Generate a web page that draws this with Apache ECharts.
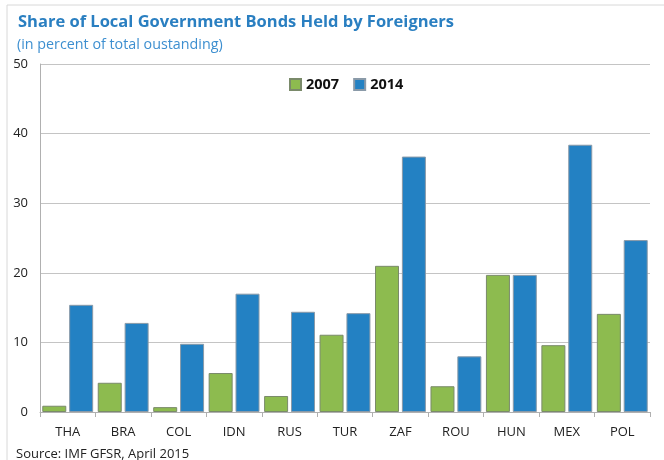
<!DOCTYPE html>
<html><head><meta charset="utf-8">
<script src="https://cdn.jsdelivr.net/npm/echarts@6/dist/echarts.min.js"></script>
<style>html,body{margin:0;padding:0;background:#fff}#c{width:664px;height:460px}</style>
</head><body><div id="c"></div>
<script>
const categories = ['THA','BRA','COL','IDN','RUS','TUR','ZAF','ROU','HUN','MEX','POL'];
const s2007 = [0.9,4.2,0.7,5.6,2.3,11.1,21.0,3.7,19.7,9.6,14.1];
const s2014 = [15.4,12.8,9.8,17.0,14.4,14.2,36.7,8.0,19.7,38.4,24.7];
const yTicks = [0,10,20,30,40,50];
const FONT = '"Open Sans","Noto Sans",sans-serif';
const chart = echarts.init(document.getElementById('c'), null, {renderer:'canvas'});
chart.setOption({
  animation:false,
  backgroundColor:'#fff',
  graphic:[{type:'rect',shape:{x:7,y:5,width:680,height:470},style:{fill:'none',stroke:'#d8d8d8',lineWidth:1},silent:true}],
  title:[
    {text:'Share of Local Government Bonds Held by Foreigners',left:13,top:9,textStyle:{fontFamily:FONT,fontSize:16.5,fontWeight:'bold',color:'#2a7fc1'}},
    {text:'(in percent of total oustanding)',left:12,top:33,textStyle:{fontFamily:FONT,fontSize:14.3,fontWeight:'normal',color:'#3d8fd0'}},
    {text:'Source: IMF GFSR, April 2015',left:11,top:443,textStyle:{fontFamily:FONT,fontSize:13,fontWeight:'normal',color:'#222'}}
  ],
  legend:{top:72,left:284,itemWidth:11,itemHeight:11,itemGap:14,icon:'rect',
    textStyle:{fontFamily:FONT,fontSize:14.5,fontWeight:'bold',color:'#111'},data:['2007','2014']},
  grid:{left:40,right:14,top:64,bottom:48},
  xAxis:{type:'category',data:categories,
    axisLine:{lineStyle:{color:'#b0b0b0'}},
    axisTick:{show:true,lineStyle:{color:'#b0b0b0'},length:5},
    axisLabel:{fontFamily:FONT,fontSize:13,color:'#222',margin:14}},
  yAxis:{type:'value',min:0,max:50,interval:10,
    axisLine:{show:true,lineStyle:{color:'#b0b0b0'}},
    axisTick:{show:false},
    splitLine:{lineStyle:{color:'#c4c4c4'}},
    axisLabel:{fontFamily:FONT,fontSize:13,color:'#222',margin:12,
      formatter:v=>yTicks.includes(v)?String(v):''}},
  series:[
    {name:'2007',type:'bar',data:s2007,barWidth:24,barGap:'12%',
      itemStyle:{color:'#8dbb4f',borderColor:'#7a8a6a',borderWidth:1}},
    {name:'2014',type:'bar',data:s2014,barWidth:24,
      itemStyle:{color:'#2381c3',borderColor:'#8a9aa8',borderWidth:1}}
  ]
});
</script></body></html>
